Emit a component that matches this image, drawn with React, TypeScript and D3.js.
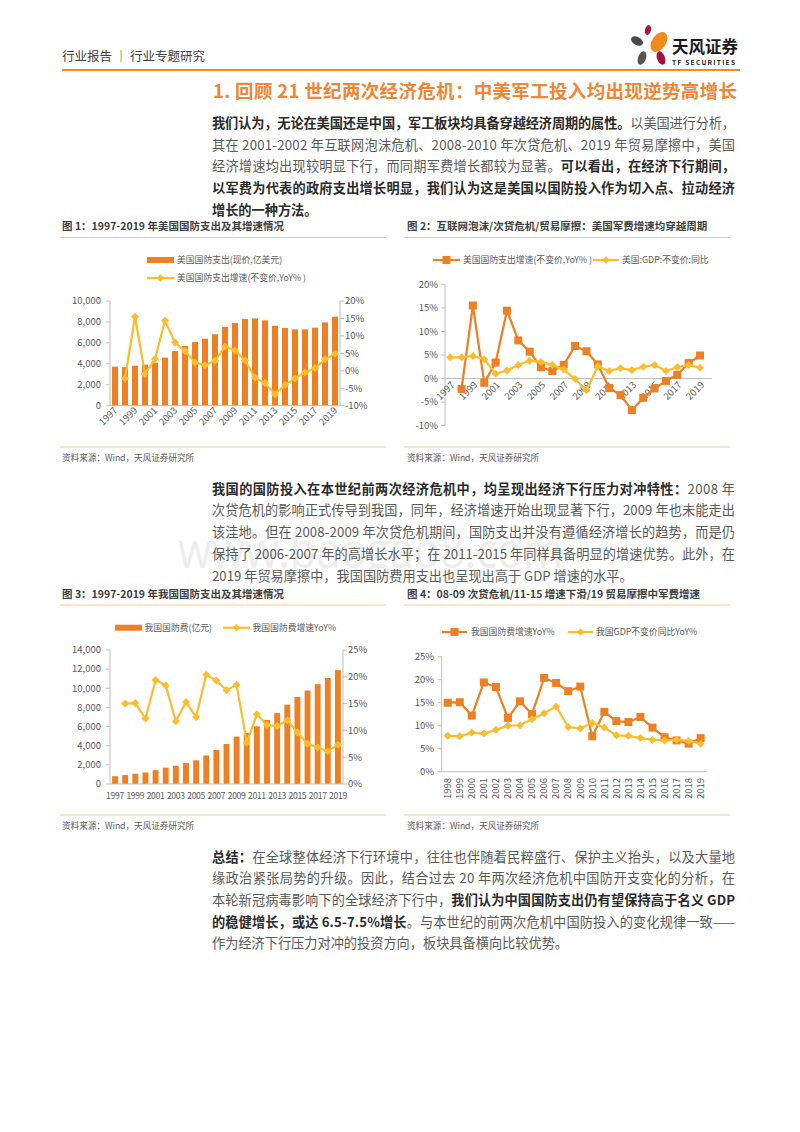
import React from 'react';
import * as d3 from 'd3';

const FONT = '"Noto Sans CJK SC", "Noto Sans", sans-serif';
const ORANGE = '#EE7F22';
const YELLOW = '#FBBC2E';
const AXIS = '#BFBFBF';
const LABEL = '#595959';
const TITLE_ORANGE = '#EF8633';
const RULE = '#F7C79A';

// ---------- data ----------
const years = ['1997','1998','1999','2000','2001','2002','2003','2004','2005','2006','2007','2008','2009','2010','2011','2012','2013','2014','2015','2016','2017','2018','2019'];
const years4 = ['1998','1999','2000','2001','2002','2003','2004','2005','2006','2007','2008','2009','2010','2011','2012','2013','2014','2015','2016','2017','2018','2019'];

// US defense spending (current price, 100m USD)
const usDefense = [3730, 3690, 3820, 3920, 4110, 4590, 5220, 5700, 6080, 6400, 6820, 7520, 7900, 8280, 8340, 8150, 7640, 7420, 7290, 7290, 7450, 7960, 8500];
// US defense spending growth (constant price, YoY %)
const usDefenseYoY: (number | null)[] = [null, -2.2, 15.5, -0.9, 3.4, 14.4, 8.1, 5.7, 2.4, 1.6, 2.9, 6.9, 5.8, 3.0, -2.0, -3.5, -6.7, -4.1, -2.1, -0.5, 0.8, 3.3, 4.9];
// US GDP constant price YoY %
const usGdpYoY = [4.5, 4.5, 4.8, 4.1, 1.0, 1.7, 2.9, 3.8, 3.5, 2.9, 1.9, -0.1, -2.5, 2.6, 1.6, 2.2, 1.8, 2.5, 2.9, 1.6, 2.4, 2.9, 2.3];

// China defense budget (100m CNY)
const cnDefense = [813, 935, 1076, 1208, 1442, 1708, 1908, 2200, 2475, 2979, 3555, 4179, 4951, 5333, 6028, 6692, 7411, 8290, 9088, 9766, 10432, 11070, 11897];
// China defense growth YoY %
const cnDefenseYoY: (number | null)[] = [null, 15.0, 15.1, 12.2, 19.4, 18.4, 11.7, 15.3, 12.5, 20.4, 19.3, 17.5, 18.5, 7.7, 13.0, 11.0, 10.8, 11.9, 9.6, 7.5, 6.8, 6.1, 7.3];
// China GDP constant price YoY % (1998-2019)
const cnGdpYoY = [7.8, 7.7, 8.5, 8.3, 9.1, 10.0, 10.1, 11.4, 12.7, 14.2, 9.7, 9.4, 10.6, 9.6, 7.9, 7.8, 7.3, 6.9, 6.8, 6.9, 6.7, 6.1];

const leftTicks1 = [0, 2000, 4000, 6000, 8000, 10000];
const rightTicks1 = [-10, -5, 0, 5, 10, 15, 20];
const ticks2 = [-10, -5, 0, 5, 10, 15, 20];
const leftTicks3 = [0, 2000, 4000, 6000, 8000, 10000, 12000, 14000];
const rightTicks3 = [0, 5, 10, 15, 20, 25];
const ticks4 = [0, 5, 10, 15, 20, 25];

// ---------- text ----------
type Seg = [string, boolean];
const para1: Seg[][] = [
  [['我们认为，无论在美国还是中国，军工板块均具备穿越经济周期的属性。', true], ['以美国进行分析，', false]],
  [['其在 2001-2002 年互联网泡沫危机、2008-2010 年次贷危机、2019 年贸易摩擦中，美国', false]],
  [['经济增速均出现较明显下行，而同期军费增长都较为显著。', false], ['可以看出，在经济下行期间，', true]],
  [['以军费为代表的政府支出增长明显，我们认为这是美国以国防投入作为切入点、拉动经济', true]],
  [['增长的一种方法。', true]],
];
const para2: Seg[][] = [
  [['我国的国防投入在本世纪前两次经济危机中，均呈现出经济下行压力对冲特性：', true], ['2008 年', false]],
  [['次贷危机的影响正式传导到我国，同年，经济增速开始出现显著下行，2009 年也未能走出', false]],
  [['该洼地。但在 2008-2009 年次贷危机期间，国防支出并没有遵循经济增长的趋势，而是仍', false]],
  [['保持了 2006-2007 年的高增长水平；在 2011-2015 年同样具备明显的增速优势。此外，在', false]],
  [['2019 年贸易摩擦中，我国国防费用支出也呈现出高于 GDP 增速的水平。', false]],
];
const para3: Seg[][] = [
  [['总结：', true], ['在全球整体经济下行环境中，往往也伴随着民粹盛行、保护主义抬头，以及大量地', false]],
  [['缘政治紧张局势的升级。因此，结合过去 20 年两次经济危机中国防开支变化的分析，在', false]],
  [['本轮新冠病毒影响下的全球经济下行中，', false], ['我们认为中国国防支出仍有望保持高于名义 GDP', true]],
  [['的稳健增长，或达 6.5-7.5%增长', true], ['。与本世纪的前两次危机中国防投入的变化规律一致——', false]],
  [['作为经济下行压力对冲的投资方向，板块具备横向比较优势。', false]],
];

function Para({ lines, x, y0, step }: { lines: Seg[][]; x: number; y0: number; step: number }) {
  return (
    <g fontSize={13.2}>
      {lines.map((segs, i) => {
        const last = i === lines.length - 1;
        const props: any = last ? {} : { textLength: 523, lengthAdjust: 'spacing' };
        return (
          <text key={i} x={x} y={y0 + i * step + 4.7} {...props}>
            {segs.map(([t, b], j) => (
              <tspan key={j} fontWeight={b ? 'bold' : 'normal'} fill={b ? '#2b2b2b' : '#595959'}>{t}</tspan>
            ))}
          </text>
        );
      })}
    </g>
  );
}

function diamond(cx: number, cy: number, r: number) {
  return `M${cx},${cy - r}L${cx + r},${cy}L${cx},${cy + r}L${cx - r},${cy}Z`;
}

function Caption({ x, y, text, x0, x1, lineY }: { x: number; y: number; text: string; x0: number; x1: number; lineY: number }) {
  return (
    <g>
      <text x={x} y={y + 3.8} fontSize={10.5} fontWeight="bold" fill="#404040">{text}</text>
      <line x1={x0} x2={x1} y1={lineY} y2={lineY} stroke={RULE} strokeWidth={1} />
    </g>
  );
}

function Source({ x, y, x0, x1, lineY }: { x: number; y: number; x0: number; x1: number; lineY: number }) {
  return (
    <g>
      <line x1={x0} x2={x1} y1={lineY} y2={lineY} stroke={RULE} strokeWidth={1} />
      <text x={x} y={y + 3} fontSize={8.6} fill="#595959">资料来源：Wind，天风证券研究所</text>
    </g>
  );
}

// ---------- Chart 1 ----------
function Chart1() {
  const x = d3.scaleBand().domain(years).range([110, 340]).paddingInner(0.4).paddingOuter(0.2);
  const yL = d3.scaleLinear().domain([0, 10000]).range([405.7, 301]);
  const yR = d3.scaleLinear().domain([-10, 20]).range([405.7, 301]);
  const cx = (c: string) => (x(c) as number) + x.bandwidth() / 2;
  const pts = years.map((c, i) => ({ c, v: usDefenseYoY[i] }));
  const line = d3.line<{ c: string; v: number | null }>().defined(d => d.v != null).x(d => cx(d.c)).y(d => yR(d.v as number));
  const fmt = d3.format(',');
  return (
    <g>
      <rect x={147} y={257} width={27} height={6} fill={ORANGE} />
      <text x={177} y={263} fontSize={8.8} fill={LABEL}>美国国防支出(现价,亿美元)</text>
      <line x1={147} x2={174} y1={278} y2={278} stroke={YELLOW} strokeWidth={2.2} />
      <path d={diamond(160.5, 278, 3.8)} fill={YELLOW} />
      <text x={177} y={281} fontSize={8.8} fill={LABEL}>美国国防支出增速(不变价,YoY% )</text>
      {years.map((c, i) => (
        <rect key={c} x={x(c)} y={yL(usDefense[i])} width={x.bandwidth()} height={yL(0) - yL(usDefense[i])} fill={ORANGE} />
      ))}
      <line x1={110} x2={110} y1={301} y2={405.7} stroke={AXIS} />
      <line x1={340} x2={340} y1={301} y2={405.7} stroke={AXIS} />
      <line x1={110} x2={340} y1={405.7} y2={405.7} stroke={AXIS} />
      {leftTicks1.map(t => (
        <g key={t}>
          <line x1={106} x2={110} y1={yL(t)} y2={yL(t)} stroke={AXIS} />
          <text x={101} y={yL(t) + 3.3} fontSize={9.5} fill={LABEL} textAnchor="end">{fmt(t)}</text>
        </g>
      ))}
      {rightTicks1.map(t => (
        <g key={t}>
          <line x1={340} x2={344} y1={yR(t)} y2={yR(t)} stroke={AXIS} />
          <text x={345} y={yR(t) + 3.3} fontSize={9.5} fill={LABEL}>{t}%</text>
        </g>
      ))}
      {years.filter((_, i) => i % 2 === 0).map(c => (
        <text key={c} fontSize={9.5} fill={LABEL} textAnchor="end" transform={`translate(${cx(c) + 3},${411}) rotate(-45)`}>{c}</text>
      ))}
      <path d={line(pts) || ''} fill="none" stroke={YELLOW} strokeWidth={2.2} />
      {pts.filter(d => d.v != null).map(d => (
        <path key={d.c} d={diamond(cx(d.c), yR(d.v as number), 4)} fill={YELLOW} />
      ))}
    </g>
  );
}

// ---------- Chart 2 ----------
function Chart2() {
  const x = d3.scalePoint().domain(years).range([444.5, 705.7]).padding(0.5);
  const y = d3.scaleLinear().domain([-10, 20]).range([425.7, 284.3]);
  const def = years.map((c, i) => ({ c, v: usDefenseYoY[i] }));
  const gdp = years.map((c, i) => ({ c, v: usGdpYoY[i] as number | null }));
  const line = d3.line<{ c: string; v: number | null }>().defined(d => d.v != null).x(d => x(d.c) as number).y(d => y(d.v as number));
  return (
    <g>
      <line x1={433} x2={460} y1={260} y2={260} stroke={ORANGE} strokeWidth={2.2} />
      <rect x={442.5} y={256} width={8} height={8} fill={ORANGE} />
      <text x={463} y={263} fontSize={8.8} fill={LABEL}>美国国防支出增速(不变价,YoY% )</text>
      <line x1={593} x2={619} y1={260} y2={260} stroke={YELLOW} strokeWidth={2.2} />
      <path d={diamond(606, 260, 3.8)} fill={YELLOW} />
      <text x={622} y={263} fontSize={8.8} fill={LABEL}>美国:GDP:不变价:同比</text>
      <line x1={445} x2={445} y1={284.3} y2={425.7} stroke={AXIS} />
      <line x1={445} x2={712} y1={y(0)} y2={y(0)} stroke={AXIS} />
      {ticks2.map(t => (
        <g key={t}>
          <line x1={441} x2={445} y1={y(t)} y2={y(t)} stroke={AXIS} />
          <text x={438} y={y(t) + 3.3} fontSize={9.5} fill={LABEL} textAnchor="end">{t}%</text>
        </g>
      ))}
      {years.filter((_, i) => i % 2 === 0).map(c => (
        <text key={c} fontSize={9.5} fill={LABEL} textAnchor="end" transform={`translate(${(x(c) as number) + 5},${y(0) + 7}) rotate(-45)`}>{c}</text>
      ))}
      <path d={line(def) || ''} fill="none" stroke={ORANGE} strokeWidth={2.2} />
      {def.filter(d => d.v != null).map(d => (
        <rect key={d.c} x={(x(d.c) as number) - 4} y={y(d.v as number) - 4} width={8} height={8} fill={ORANGE} />
      ))}
      <path d={line(gdp) || ''} fill="none" stroke={YELLOW} strokeWidth={2.2} />
      {gdp.map(d => (
        <path key={d.c} d={diamond(x(d.c) as number, y(d.v as number), 4)} fill={YELLOW} />
      ))}
    </g>
  );
}

// ---------- Chart 3 ----------
function Chart3() {
  const x = d3.scaleBand().domain(years).range([110, 343]).paddingInner(0.42).paddingOuter(0.21);
  const yL = d3.scaleLinear().domain([0, 14000]).range([784, 650]);
  const yR = d3.scaleLinear().domain([0, 25]).range([784, 650]);
  const cx = (c: string) => (x(c) as number) + x.bandwidth() / 2;
  const pts = years.map((c, i) => ({ c, v: cnDefenseYoY[i] }));
  const line = d3.line<{ c: string; v: number | null }>().defined(d => d.v != null).x(d => cx(d.c)).y(d => yR(d.v as number));
  const fmt = d3.format(',');
  return (
    <g>
      <rect x={115} y={624.7} width={27} height={6} fill={ORANGE} />
      <text x={144.5} y={630.7} fontSize={8.8} fill={LABEL}>我国国防费(亿元)</text>
      <line x1={223} x2={250} y1={627.7} y2={627.7} stroke={YELLOW} strokeWidth={2.2} />
      <path d={diamond(236.5, 627.7, 3.8)} fill={YELLOW} />
      <text x={252.5} y={630.7} fontSize={8.8} fill={LABEL}>我国国防费增速YoY%</text>
      {years.map((c, i) => (
        <rect key={c} x={x(c)} y={yL(cnDefense[i])} width={x.bandwidth()} height={yL(0) - yL(cnDefense[i])} fill={ORANGE} />
      ))}
      <line x1={110} x2={110} y1={650} y2={784} stroke={AXIS} />
      <line x1={343} x2={343} y1={650} y2={784} stroke={AXIS} />
      <line x1={110} x2={343} y1={784} y2={784} stroke={AXIS} />
      {leftTicks3.map(t => (
        <g key={t}>
          <line x1={106} x2={110} y1={yL(t)} y2={yL(t)} stroke={AXIS} />
          <text x={101} y={yL(t) + 3.3} fontSize={9.5} fill={LABEL} textAnchor="end">{fmt(t)}</text>
        </g>
      ))}
      {rightTicks3.map(t => (
        <g key={t}>
          <line x1={343} x2={347} y1={yR(t)} y2={yR(t)} stroke={AXIS} />
          <text x={348} y={yR(t) + 3.3} fontSize={9.5} fill={LABEL}>{t}%</text>
        </g>
      ))}
      {years.filter((_, i) => i % 2 === 0).map(c => (
        <text key={c} x={cx(c)} y={798.5} fontSize={8.6} fill={LABEL} textAnchor="middle" letterSpacing={-0.3}>{c}</text>
      ))}
      <path d={line(pts) || ''} fill="none" stroke={YELLOW} strokeWidth={2.2} />
      {pts.filter(d => d.v != null).map(d => (
        <path key={d.c} d={diamond(cx(d.c), yR(d.v as number), 4)} fill={YELLOW} />
      ))}
    </g>
  );
}

// ---------- Chart 4 ----------
function Chart4() {
  const x = d3.scalePoint().domain(years4).range([441.7, 706.7]).padding(0.5);
  const y = d3.scaleLinear().domain([0, 25]).range([771.7, 656.7]);
  const def = years4.map((c, i) => ({ c, v: cnDefenseYoY[i + 1] as number | null }));
  const gdp = years4.map((c, i) => ({ c, v: cnGdpYoY[i] as number | null }));
  const line = d3.line<{ c: string; v: number | null }>().defined(d => d.v != null).x(d => x(d.c) as number).y(d => y(d.v as number));
  return (
    <g>
      <line x1={442} x2={467} y1={632} y2={632} stroke={ORANGE} strokeWidth={2.2} />
      <rect x={450.5} y={628} width={8} height={8} fill={ORANGE} />
      <text x={471} y={635} fontSize={8.8} fill={LABEL}>我国国防费增速YoY%</text>
      <line x1={568} x2={593} y1={632} y2={632} stroke={YELLOW} strokeWidth={2.2} />
      <path d={diamond(580.5, 632, 3.8)} fill={YELLOW} />
      <text x={596} y={635} fontSize={8.8} fill={LABEL}>我国GDP不变价同比YoY%</text>
      <line x1={441.7} x2={441.7} y1={656.7} y2={771.7} stroke={AXIS} />
      <line x1={441.7} x2={706.7} y1={771.7} y2={771.7} stroke={AXIS} />
      {ticks4.map(t => (
        <g key={t}>
          <line x1={437.7} x2={441.7} y1={y(t)} y2={y(t)} stroke={AXIS} />
          <text x={434} y={y(t) + 3.3} fontSize={9.5} fill={LABEL} textAnchor="end">{t}%</text>
        </g>
      ))}
      {years4.map(c => (
        <text key={c} fontSize={9.5} fill={LABEL} textAnchor="end" transform={`translate(${(x(c) as number) + 3.3},${778}) rotate(-90)`}>{c}</text>
      ))}
      <path d={line(def) || ''} fill="none" stroke={ORANGE} strokeWidth={2.2} />
      {def.map(d => (
        <rect key={d.c} x={(x(d.c) as number) - 4} y={y(d.v as number) - 4} width={8} height={8} fill={ORANGE} />
      ))}
      <path d={line(gdp) || ''} fill="none" stroke={YELLOW} strokeWidth={2.2} />
      {gdp.map(d => (
        <path key={d.c} d={diamond(x(d.c) as number, y(d.v as number), 4)} fill={YELLOW} />
      ))}
    </g>
  );
}

function Header() {
  return (
    <g>
      <text x={62} y={60.5} fontSize={12.5} fill="#404040">行业报告 ｜ 行业专题研究</text>
      <line x1={62} x2={740} y1={70} y2={70} stroke="#F08A2E" strokeWidth={2} />
      <ellipse cx={648} cy={30} rx={3} ry={5} fill="#B3143C" transform="rotate(15 648 30)" />
      <ellipse cx={659} cy={42} rx={7} ry={11} fill="#F08A1C" transform="rotate(35 659 42)" />
      <ellipse cx={637} cy={41} rx={6.5} ry={4} fill="#4A4A4A" transform="rotate(30 637 41)" />
      <ellipse cx={642} cy={58} rx={4} ry={7} fill="#555555" transform="rotate(20 642 58)" />
      <ellipse cx={661} cy={58} rx={4} ry={7} fill="#A8123A" transform="rotate(-20 661 58)" />
      <text x={672} y={53} fontSize={16.5} fontWeight="bold" fill="#1a1a1a">天风证券</text>
      <text x={672} y={65} fontSize={6.6} fontWeight="bold" fill="#1a1a1a" textLength={63} lengthAdjust="spacing">TF SECURITIES</text>
    </g>
  );
}

export default function App() {
  return (
    <svg width={800} height={1132} style={{ position: 'absolute', left: 0, top: 0, background: '#fff' }} fontFamily={FONT}>
      <rect width={800} height={1132} fill="#fff" />
      <Header />
      <text x={213} y={97.5} fontSize={18.5} fontWeight="bold" fill={TITLE_ORANGE} textLength={524} lengthAdjust="spacing">1. 回顾 21 世纪两次经济危机：中美军工投入均出现逆势高增长</text>
      <Para lines={para1} x={212} y0={123.5} step={21.6} />

      <Caption x={62} y={226.5} text="图 1：1997-2019 年美国国防支出及其增速情况" x0={60} x1={386} lineY={237.5} />
      <Caption x={407} y={226.5} text="图 2：互联网泡沫/次贷危机/贸易摩擦：美国军费增速均穿越周期" x0={404} x1={730} lineY={237.5} />
      <Chart1 />
      <Chart2 />
      <Source x={62} y={457.5} x0={60} x1={386} lineY={447} />
      <Source x={407} y={457.5} x0={404} x1={730} lineY={447} />

      <text x={178} y={568} fontSize={50} fill="#ededed" fontFamily='"Open Sans", sans-serif' textLength={385} lengthAdjust="spacingAndGlyphs">www.baogao8.com</text>
      <Para lines={para2} x={212} y0={489} step={21.7} />

      <Caption x={62} y={594} text="图 3：1997-2019 年我国国防支出及其增速情况" x0={60} x1={386} lineY={605} />
      <Caption x={407} y={594} text="图 4：08-09 次贷危机/11-15 增速下滑/19 贸易摩擦中军费增速" x0={404} x1={730} lineY={605} />
      <Chart3 />
      <Chart4 />
      <Source x={62} y={826} x0={60} x1={386} lineY={815} />
      <Source x={407} y={826} x0={404} x1={730} lineY={815} />

      <Para lines={para3} x={212} y0={857} step={21.6} />
    </svg>
  );
}
